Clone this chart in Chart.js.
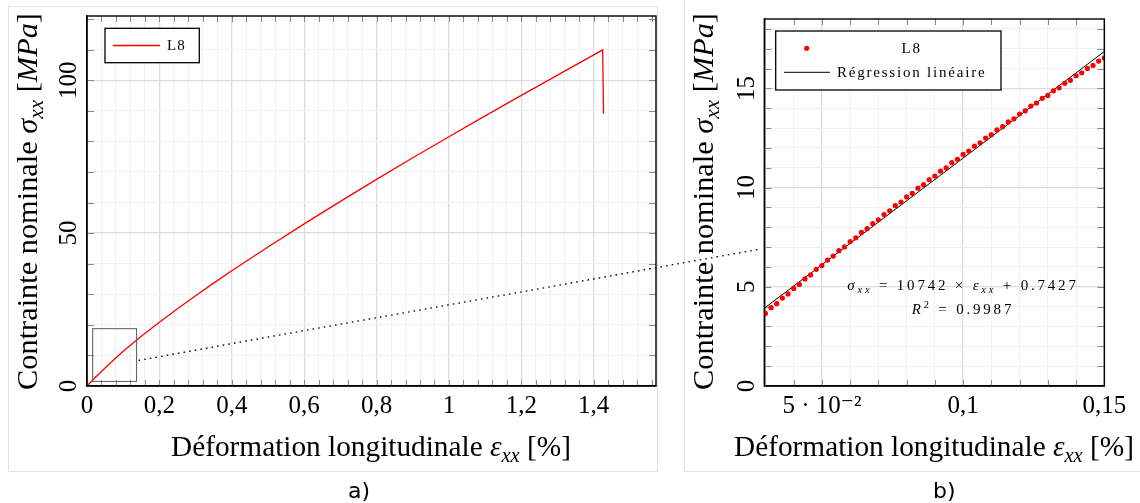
<!DOCTYPE html>
<html>
<head>
<meta charset="utf-8">
<script src="https://cdn.jsdelivr.net/npm/chart.js@4.4.1/dist/chart.umd.min.js"></script>
<style>
  body { margin: 0; width: 1140px; height: 503px; background: #fff; position: relative; overflow: hidden; }
  .panel { position: absolute; border: 1px solid #e2e2e2; }
  canvas { position: absolute; top: 0; }
  .cap { position: absolute; top: 480px; font: 22px/22px "DejaVu Sans", sans-serif; color: #000; }
</style>
</head>
<body>
<div class="panel" style="left:8px;top:6px;width:648px;height:464px"></div>
<div class="panel" style="left:684px;top:-2px;width:470px;height:472px"></div>
<canvas id="full" width="672" height="503" style="left:0"></canvas>
<canvas id="zoom" width="456" height="503" style="left:684px"></canvas>
<canvas id="link" width="1140" height="503" style="left:0;pointer-events:none"></canvas>
<div class="cap" style="left:348px">a)</div>
<div class="cap" style="left:933px">b)</div>
<script>
// a) full tensile curve, specimen L8 (strain in %, stress in MPa)
const strainL8 = [0, 0.025, 0.05, 0.075, 0.1, 0.125, 0.15, 0.2, 0.25, 0.3, 0.35, 0.4, 0.5, 0.6,
  0.7, 0.8, 0.9, 1.0, 1.1, 1.2, 1.3, 1.4246, 1.427];
const stressL8 = [0, 3.0, 5.9, 8.68, 11.33, 13.85, 16.28, 20.88, 25.28, 29.53, 33.65, 37.68, 45.48, 53.03,
  60.38, 67.58, 74.63, 81.53, 88.33, 95.03, 101.68, 109.9, 89.0];

// b) zoom on the elastic part
const zoomStrain = [0.030, 0.032, 0.034, 0.036, 0.038, 0.040, 0.042, 0.044, 0.046, 0.048,
  0.050, 0.052, 0.054, 0.056, 0.058, 0.060, 0.062, 0.064, 0.066, 0.068,
  0.070, 0.072, 0.074, 0.076, 0.078, 0.080, 0.082, 0.084, 0.086, 0.088,
  0.090, 0.092, 0.094, 0.096, 0.098, 0.100, 0.102, 0.104, 0.106, 0.108,
  0.110, 0.112, 0.114, 0.116, 0.118, 0.120, 0.122, 0.124, 0.126, 0.128,
  0.130, 0.132, 0.134, 0.136, 0.138, 0.140, 0.142, 0.144, 0.146, 0.148, 0.150];
const zoomStress = [3.66, 3.95, 4.15, 4.43, 4.64, 4.92, 5.12, 5.40, 5.60, 5.88,
  6.07, 6.35, 6.55, 6.82, 7.01, 7.28, 7.47, 7.74, 7.93, 8.19,
  8.38, 8.64, 8.83, 9.09, 9.27, 9.53, 9.71, 9.97, 10.15, 10.40,
  10.58, 10.83, 11.00, 11.26, 11.43, 11.68, 11.84, 12.09, 12.26, 12.50,
  12.67, 12.91, 13.07, 13.31, 13.47, 13.71, 13.87, 14.11, 14.26, 14.50,
  14.65, 14.88, 15.03, 15.26, 15.41, 15.64, 15.79, 16.01, 16.16, 16.38, 16.53];
const regStrain = [0.0296, 0.15];
const regStress = [3.92, 16.86];

// tick labels
const fullXTicks = [0, 0.2, 0.4, 0.6, 0.8, 1, 1.2, 1.4];
const fullXLabels = ['0', '0,2', '0,4', '0,6', '0,8', '1', '1,2', '1,4'];
const fullYTicks = [0, 50, 100];
const fullYLabels = ['0', '50', '100'];
const zoomXTicks = [0.05, 0.1, 0.15];
const zoomXLabels = ['5 · 10⁻²', '0,1', '0,15'];
const zoomYTicks = [0, 5, 10, 15];
const zoomYLabels = ['0', '5', '10', '15'];

// zoom window drawn on a), and the dotted link to b)
const zoomBoxStrain = [0.0157, 0.137];
const zoomBoxStress = [1.5, 18.75];
const linkFrom = [0.137, 8.4];
const linkTo = [0.0296, 6.9];

const SERIF = '"Liberation Serif", "DejaVu Serif", serif';
Chart.defaults.font.family = SERIF;
Chart.defaults.color = '#000';

const xyOf = (xs, ys) => xs.map((x, i) => ({ x, y: ys[i] }));
const isMajor = (ticks, v) => ticks.some(t => Math.abs(t - v) < 1e-9);
const labelOf = (ticks, labels) => v => {
  const i = ticks.findIndex(t => Math.abs(t - v) < 1e-9);
  return i < 0 ? '' : labels[i];
};
const gridOf = ticks => ({
  drawTicks: false,
  color: c => (c.tick && isMajor(ticks, c.tick.value)) ? '#dcdcdc' : '#f1f1f1',
  lineWidth: c => (c.tick && isMajor(ticks, c.tick.value)) ? 1.3 : 1
});

function xScale(min, max, step, ticks, labels) {
  return {
    type: 'linear', min, max,
    afterFit: s => { s.height = 40; },
    border: { color: '#000', width: 1.4 },
    grid: gridOf(ticks),
    ticks: { stepSize: step, includeBounds: false, autoSkip: false, maxRotation: 0,
      padding: 5, font: { size: 25 }, callback: labelOf(ticks, labels) }
  };
}
function yScale(min, max, step, ticks, labels, width, pad) {
  return {
    type: 'linear', min, max,
    afterFit: s => { s.width = width; },
    border: { color: '#000', width: 1.4 },
    grid: gridOf(ticks),
    ticks: { stepSize: step, includeBounds: false, autoSkip: false, minRotation: 90, maxRotation: 90,
      crossAlign: 'center', padding: pad, font: { size: 25 }, callback: labelOf(ticks, labels) }
  };
}

// text with italic / sub / superscript pieces
function drawRich(ctx, segs, size, x, y, rot, spacing) {
  ctx.save();
  ctx.translate(x, y);
  ctx.rotate(rot);
  ctx.letterSpacing = (spacing || 0) + 'px';
  const fontOf = s => (s.it ? 'italic ' : '') + ((s.sub || s.sup) ? size * 0.7 : size) + 'px ' + SERIF;
  let w = 0;
  for (const s of segs) { ctx.font = fontOf(s); w += ctx.measureText(s.t).width; }
  let cx = -w / 2;
  ctx.fillStyle = '#000';
  ctx.textBaseline = 'alphabetic';
  ctx.textAlign = 'left';
  for (const s of segs) {
    ctx.font = fontOf(s);
    const dy = s.sub ? size * 0.2 : s.sup ? -size * 0.4 : 0;
    ctx.fillText(s.t, cx, dy);
    cx += ctx.measureText(s.t).width;
  }
  ctx.restore();
}
function fitSize(ctx, segs, target) {
  let w = 0;
  ctx.save();
  ctx.letterSpacing = '0px';
  for (const s of segs) {
    ctx.font = (s.it ? 'italic ' : '') + ((s.sub || s.sup) ? 70 : 100) + 'px ' + SERIF;
    w += ctx.measureText(s.t).width;
  }
  ctx.restore();
  return 100 * target / w;
}

const xTitle = [{ t: 'Déformation longitudinale ' }, { t: 'ε', it: 1 }, { t: 'xx', it: 1, sub: 1 }, { t: ' [%]' }];
const yTitle = [{ t: 'Contrainte nominale ' }, { t: 'σ', it: 1 }, { t: 'xx', it: 1, sub: 1 }, { t: ' [' }, { t: 'MPa', it: 1 }, { t: ']' }];
const eqText = [{ t: 'σ', it: 1 }, { t: 'xx', it: 1, sub: 1 }, { t: ' = 10742 × ' }, { t: 'ε', it: 1 }, { t: 'xx', it: 1, sub: 1 }, { t: ' + 0.7427' }];
const r2Text = [{ t: 'R', it: 1 }, { t: '2', sup: 1 }, { t: ' = 0.9987' }];

const decor = {
  id: 'decor',
  beforeDatasetsDraw(chart) {
    const { ctx, chartArea: a, scales: { x, y } } = chart;
    ctx.save();
    ctx.strokeStyle = '#8a8a8a';
    ctx.lineWidth = 1;
    ctx.beginPath();
    for (const t of x.ticks) {
      const px = Math.round(x.getPixelForValue(t.value)) + 0.5;
      ctx.moveTo(px, a.top); ctx.lineTo(px, a.top + 6);
      ctx.moveTo(px, a.bottom); ctx.lineTo(px, a.bottom - 6);
    }
    for (const t of y.ticks) {
      const py = Math.round(y.getPixelForValue(t.value)) + 0.5;
      ctx.moveTo(a.left, py); ctx.lineTo(a.left + 7, py);
      ctx.moveTo(a.right, py); ctx.lineTo(a.right - 7, py);
    }
    ctx.stroke();
    ctx.restore();
  },
  afterDraw(chart, args, o) {
    const { ctx, chartArea: a, scales: { x, y } } = chart;
    ctx.save();
    // frame
    ctx.strokeStyle = '#000';
    ctx.lineWidth = 1.4;
    ctx.strokeRect(a.left, a.top, a.right - a.left, a.bottom - a.top);
    // zoom window
    if (o.box) {
      const x0 = x.getPixelForValue(zoomBoxStrain[0]), x1 = x.getPixelForValue(zoomBoxStrain[1]);
      const y0 = y.getPixelForValue(zoomBoxStress[1]), y1 = y.getPixelForValue(zoomBoxStress[0]);
      ctx.strokeStyle = '#5a5a5a';
      ctx.lineWidth = 1;
      ctx.strokeRect(x0, y0, x1 - x0, y1 - y0);
    }
    // legend
    const L = o.legend;
    const bx = a.left + L.dx, by = a.top + L.dy;
    ctx.fillStyle = '#fff';
    ctx.fillRect(bx, by, L.w, L.h);
    ctx.strokeStyle = '#000';
    ctx.lineWidth = 1.3;
    ctx.strokeRect(bx, by, L.w, L.h);
    ctx.font = L.font + 'px ' + SERIF;
    ctx.letterSpacing = L.spacing + 'px';
    ctx.textBaseline = 'middle';
    chart.data.datasets.forEach((ds, i) => {
      const ry = by + L.rows[i];
      if (ds.showLine === false) {
        ctx.fillStyle = ds.backgroundColor;
        ctx.beginPath();
        ctx.arc(bx + L.markX, ry, ds.pointRadius, 0, Math.PI * 2);
        ctx.fill();
      } else {
        ctx.strokeStyle = ds.borderColor;
        ctx.lineWidth = ds.borderWidth;
        ctx.beginPath();
        ctx.moveTo(bx + L.lineX0, ry);
        ctx.lineTo(bx + L.lineX1, ry);
        ctx.stroke();
      }
      ctx.fillStyle = '#000';
      ctx.textAlign = L.align;
      ctx.fillText(ds.label, bx + L.textX, ry + 1);
    });
    ctx.letterSpacing = '0px';
    // axis titles
    const T = o.titles;
    drawRich(ctx, xTitle, fitSize(ctx, xTitle, 400), T.xCx, T.xBase, 0);
    drawRich(ctx, yTitle, fitSize(ctx, yTitle, 377), T.yBase, T.yCy, -Math.PI / 2);
    // regression note
    if (o.note) {
      drawRich(ctx, eqText, 15, o.note.cx, o.note.y1, 0, 2.8);
      drawRich(ctx, r2Text, 15, o.note.cx, o.note.y2, 0, 2.8);
    }
    ctx.restore();
  }
};

const fullChart = new Chart(document.getElementById('full'), {
  type: 'line',
  data: {
    datasets: [{
      label: 'L8', data: xyOf(strainL8, stressL8),
      borderColor: '#ff0000', borderWidth: 1.3, pointRadius: 0, tension: 0, fill: false
    }]
  },
  options: {
    responsive: false, animation: false, events: [],
    layout: { padding: { left: 0, top: 16, right: 16, bottom: 77 } },
    scales: {
      x: xScale(0, 1.572, 0.04, fullXTicks, fullXLabels),
      y: yScale(0, 121, 10, fullYTicks, fullYLabels, 87, -1)
    },
    plugins: {
      legend: { display: false }, tooltip: { enabled: false },
      decor: {
        box: true,
        legend: { dx: 18, dy: 12.3, w: 94.3, h: 34.4, rows: [17.2], lineX0: 8, lineX1: 55, textX: 62,
          align: 'left', font: 15, spacing: 1.2 },
        titles: { xCx: 371, xBase: 456, yBase: 37, yCy: 201.5 }
      }
    }
  },
  plugins: [decor]
});

const zoomChart = new Chart(document.getElementById('zoom'), {
  type: 'scatter',
  data: {
    datasets: [{
      label: 'L8', data: xyOf(zoomStrain, zoomStress), showLine: false,
      backgroundColor: '#ff0000', borderWidth: 0, pointRadius: 2.6
    }, {
      label: 'Régression linéaire', data: xyOf(regStrain, regStress), showLine: true,
      borderColor: '#000', borderWidth: 1, pointRadius: 0
    }]
  },
  options: {
    responsive: false, animation: false, events: [],
    layout: { padding: { left: 0, top: 15.7, right: 35.7, bottom: 77 } },
    scales: {
      x: xScale(0.0296, 0.15, 0.01, zoomXTicks, zoomXLabels),
      y: yScale(0, 18.5, 1, zoomYTicks, zoomYLabels, 80.3, 4)
    },
    plugins: {
      legend: { display: false }, tooltip: { enabled: false },
      decor: {
        legend: { dx: 11.4, dy: 12, w: 225.3, h: 59, rows: [17.3, 41.3], markX: 31, lineX0: 8.3, lineX1: 54.3,
          textX: 136, align: 'center', font: 15, spacing: 1.8 },
        titles: { xCx: 250, xBase: 456, yBase: 29, yCy: 201.5 },
        note: { cx: 279, y1: 290, y2: 314 }
      }
    }
  },
  plugins: [decor]
});

// dotted link from the zoom window of a) to panel b)
(function () {
  const ctx = document.getElementById('link').getContext('2d');
  const x0 = fullChart.scales.x.getPixelForValue(linkFrom[0]);
  const y0 = fullChart.scales.y.getPixelForValue(linkFrom[1]);
  const x1 = 684 + zoomChart.scales.x.getPixelForValue(linkTo[0]) - 4;
  const y1 = zoomChart.scales.y.getPixelForValue(linkTo[1]);
  ctx.strokeStyle = '#000';
  ctx.lineWidth = 1.3;
  ctx.setLineDash([1.6, 4.1]);
  ctx.beginPath();
  ctx.moveTo(x0 + 2, y0);
  ctx.lineTo(x1, y1);
  ctx.stroke();
})();
</script>
</body>
</html>
